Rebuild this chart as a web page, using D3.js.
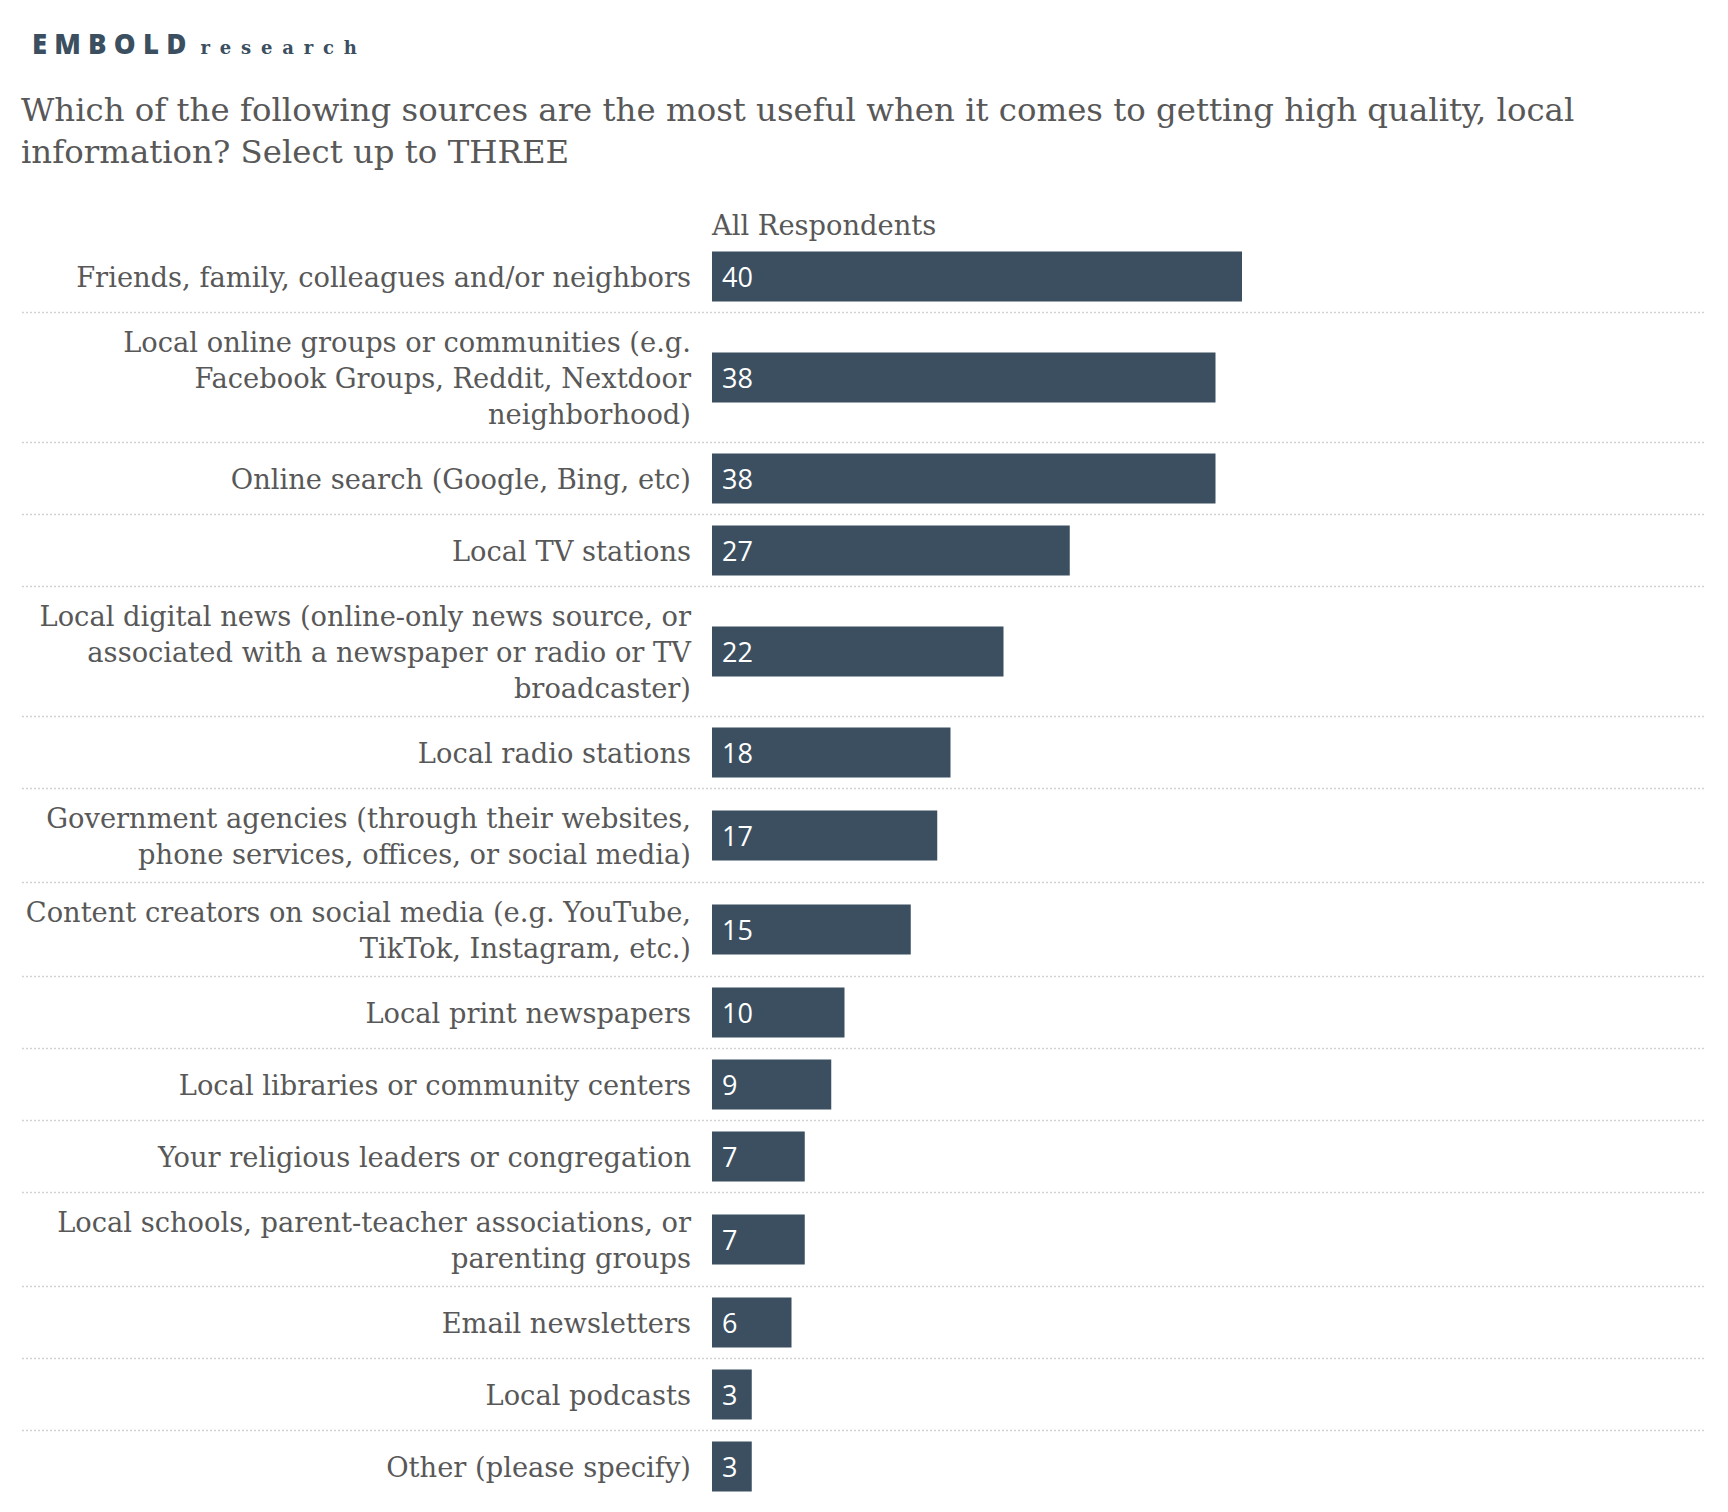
<!DOCTYPE html>
<html>
<head>
<meta charset="utf-8">
<script src="https://cdn.jsdelivr.net/npm/d3@7"></script>
<style>
  body { margin: 0; background: #fff; }
  svg { display: block; }
  .label { font-family: "DejaVu Serif", serif; fill: #585858; }
  .value { font-family: "Open Sans", sans-serif; fill: #fff; }
</style>
</head>
<body>
<div class="panel"></div>
<script>
const width = 1728;
const height = 1512;

const categories = [
  "Friends, family, colleagues and/or neighbors",
  "Local online groups or communities (e.g.|Facebook Groups, Reddit, Nextdoor|neighborhood)",
  "Online search (Google, Bing, etc)",
  "Local TV stations",
  "Local digital news (online-only news source, or|associated with a newspaper or radio or TV|broadcaster)",
  "Local radio stations",
  "Government agencies (through their websites,|phone services, offices, or social media)",
  "Content creators on social media (e.g. YouTube,|TikTok, Instagram, etc.)",
  "Local print newspapers",
  "Local libraries or community centers",
  "Your religious leaders or congregation",
  "Local schools, parent-teacher associations, or|parenting groups",
  "Email newsletters",
  "Local podcasts",
  "Other (please specify)"
];
const values = [40, 38, 38, 27, 22, 18, 17, 15, 10, 9, 7, 7, 6, 3, 3];
const seriesName = "All Respondents";
const titleLines = [
  "Which of the following sources are the most useful when it comes to getting high quality, local",
  "information? Select up to THREE"
];

const barColor = "#3b4f60";
const barHeight = 50;
const lineHeight = 36;
const rowPad = 11;
const barLeft = 712;
const labelRight = 691;
const chartTop = 240.5;
const labelSize = 27.3;

const svg = d3.select(".panel")
    .append("svg")
    .attr("width", width)
    .attr("height", height)
    .attr("viewBox", `0 0 ${width} ${height}`);

// logo
const logo = svg.append("text")
    .attr("x", 32)
    .attr("y", 54)
    .attr("fill", barColor);
logo.append("tspan")
    .text("EMBOLD")
    .attr("font-family", "Open Sans, sans-serif")
    .attr("font-weight", 800)
    .attr("font-size", 27.5)
    .attr("letter-spacing", 7.2);
logo.append("tspan")
    .text("research")
    .attr("dx", 7)
    .attr("font-family", "DejaVu Serif, serif")
    .attr("font-weight", "bold")
    .attr("font-size", 18)
    .attr("letter-spacing", 9.8);

// title
svg.append("g")
   .selectAll("text")
   .data(titleLines)
   .enter()
   .append("text")
   .attr("class", "label")
   .attr("x", 21)
   .attr("y", (d, i) => 121 + i * 42)
   .attr("font-size", 32.4)
   .text(d => d);

const rows = categories.map((c, i) => {
  const lines = c.split("|");
  return { lines, value: values[i], h: Math.max(barHeight, lines.length * lineHeight) + rowPad * 2 };
});
const offsets = d3.cumsum(rows, d => d.h);
rows.forEach((r, i) => { r.y0 = chartTop + (i ? offsets[i - 1] : 0); r.cy = r.y0 + r.h / 2; });

const x = d3.scaleLinear()
            .domain([0, 40])
            .range([barLeft, 1242]);

svg.append("text")
   .attr("class", "label")
   .attr("x", barLeft)
   .attr("y", 235)
   .attr("font-size", labelSize)
   .text(seriesName);

const groups = svg.selectAll(".row")
                  .data(rows)
                  .enter()
                  .append("g")
                  .attr("class", "row");

groups.filter((d, i) => i < rows.length - 1)
      .append("line")
      .attr("x1", 22)
      .attr("x2", 1706)
      .attr("y1", d => d.y0 + d.h)
      .attr("y2", d => d.y0 + d.h)
      .attr("stroke", "#d2d2d2")
      .attr("stroke-width", 1.5)
      .attr("stroke-dasharray", "2 2");

groups.append("rect")
      .attr("x", x(0))
      .attr("y", d => d.cy - barHeight / 2)
      .attr("width", d => x(d.value) - x(0))
      .attr("height", barHeight)
      .attr("fill", barColor);

groups.append("text")
      .attr("class", "value")
      .attr("x", x(0) + 10)
      .attr("y", d => d.cy + 10)
      .attr("font-size", 27)
      .text(d => d.value);

groups.each(function(d) {
  const n = d.lines.length;
  d3.select(this).append("text")
    .attr("class", "label")
    .attr("text-anchor", "end")
    .attr("font-size", labelSize)
    .selectAll("tspan")
    .data(d.lines)
    .enter()
    .append("tspan")
    .attr("x", labelRight)
    .attr("y", (l, j) => d.cy + 10 + (j - (n - 1) / 2) * lineHeight)
    .text(l => l);
});
</script>
</body>
</html>
